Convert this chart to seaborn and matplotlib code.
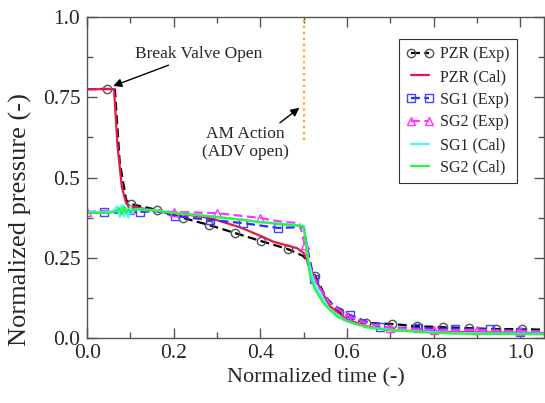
import matplotlib
matplotlib.use("Agg")
import matplotlib.pyplot as plt
import seaborn as sns
from matplotlib.ticker import MultipleLocator

# Normalized time / pressure
pzr_exp_t = [0.0, 0.046, 0.064, 0.075, 0.09, 0.102, 0.162, 0.222, 0.282, 0.342, 0.402, 0.464, 0.50,
             0.515, 0.527, 0.55, 0.582, 0.61, 0.644, 0.704, 0.762, 0.822, 0.882, 0.944, 1.004, 1.06]
pzr_exp_p = [0.775, 0.776, 0.774, 0.55, 0.43, 0.417, 0.399, 0.374, 0.352, 0.327, 0.302, 0.277, 0.255,
             0.22, 0.193, 0.13, 0.081, 0.062, 0.047, 0.044, 0.037, 0.034, 0.031, 0.028, 0.028, 0.026]
pzr_exp_mk = [1, 5, 6, 7, 8, 9, 10, 11, 14, 16, 18, 19, 20, 21, 22, 23, 24]

pzr_cal_t = [0.0, 0.062, 0.07, 0.08, 0.09, 0.10, 0.12, 0.176, 0.238, 0.284, 0.353, 0.406, 0.43, 0.485,
             0.50, 0.505, 0.515, 0.527, 0.56, 0.6, 0.65, 0.7, 0.8, 0.9, 1.06]
pzr_cal_p = [0.775, 0.775, 0.6, 0.47, 0.42, 0.41, 0.405, 0.392, 0.383, 0.374, 0.345, 0.315, 0.30, 0.28,
             0.265, 0.25, 0.22, 0.185, 0.10, 0.058, 0.035, 0.025, 0.02, 0.018, 0.016]

sg1_exp_t = [0.0, 0.039, 0.08, 0.122, 0.16, 0.203, 0.284, 0.36, 0.441, 0.50, 0.51, 0.524, 0.56, 0.607,
             0.677, 0.764, 0.85, 0.93, 1.0, 1.06]
sg1_exp_p = [0.39, 0.392, 0.39, 0.393, 0.395, 0.38, 0.368, 0.358, 0.343, 0.346, 0.27, 0.183, 0.11, 0.072,
             0.034, 0.031, 0.029, 0.027, 0.02, 0.02]
sg1_exp_mk = [1, 3, 5, 6, 7, 8, 11, 13, 14, 15, 16, 17, 18]

sg2_exp_t = [0.0, 0.1, 0.2, 0.3, 0.4, 0.45, 0.49, 0.503, 0.515, 0.53, 0.56, 0.6, 0.65, 0.7, 0.8, 0.9,
             1.0, 1.06]
sg2_exp_p = [0.393, 0.40, 0.393, 0.389, 0.374, 0.362, 0.358, 0.29, 0.22, 0.17, 0.11, 0.07, 0.045, 0.032,
             0.025, 0.025, 0.022, 0.02]
sg2_exp_mk = [0, 1, 2, 3, 4, 7, 11, 13, 14, 15, 16]

sg1_cal_t = [0.0, 0.04, 0.06, 0.07, 0.075, 0.08, 0.085, 0.09, 0.095, 0.1, 0.105, 0.11, 0.12, 0.13, 0.15,
             0.2, 0.3, 0.4, 0.5, 0.51, 0.52, 0.53, 0.56, 0.6, 0.65, 0.7, 0.8, 0.9, 1.06]
sg1_cal_p = [0.392, 0.392, 0.395, 0.41, 0.378, 0.414, 0.38, 0.405, 0.375, 0.41, 0.39, 0.40, 0.402, 0.40,
             0.399, 0.39, 0.378, 0.362, 0.35, 0.25, 0.19, 0.155, 0.09, 0.052, 0.033, 0.026, 0.018, 0.015, 0.014]

sg2_cal_t = [0.0, 0.05, 0.07, 0.075, 0.08, 0.085, 0.09, 0.095, 0.1, 0.11, 0.12, 0.15, 0.2, 0.3, 0.4, 0.5,
             0.51, 0.515, 0.527, 0.545, 0.561, 0.58, 0.607, 0.63, 0.66, 0.7, 0.739, 0.8, 0.9, 1.06]
sg2_cal_p = [0.39, 0.39, 0.395, 0.405, 0.385, 0.41, 0.39, 0.40, 0.395, 0.40, 0.40, 0.398, 0.39, 0.377,
             0.361, 0.348, 0.243, 0.19, 0.15, 0.11, 0.087, 0.065, 0.05, 0.04, 0.031, 0.025, 0.022, 0.016,
             0.013, 0.012]

am_action_t = 0.5

sns.set_style("ticks")
plt.rcParams['font.family'] = ['Liberation Serif', 'DejaVu Serif']
plt.rcParams['xtick.direction'] = 'in'
plt.rcParams['ytick.direction'] = 'in'
plt.rcParams['xtick.top'] = True
plt.rcParams['ytick.right'] = True

fig = plt.figure(figsize=(5.45, 4.03), dpi=100)
ax = fig.add_axes([0.16, 0.161, 0.838, 0.797])

common = dict(ax=ax, estimator=None, sort=False, lw=1.6)
sns.lineplot(x=pzr_exp_t, y=pzr_exp_p, color='black', linestyle=(0, (4, 2)), marker='o', ms=6,
             mfc='none', mec='#555555', mew=1, markevery=pzr_exp_mk, label='PZR (Exp)', **common)
sns.lineplot(x=pzr_cal_t, y=pzr_cal_p, color='#e8174a', label='PZR (Cal)', **common)
sns.lineplot(x=sg1_exp_t, y=sg1_exp_p, color='#2b2bff', linestyle=(0, (4, 2)), marker='s', ms=6,
             mfc='none', mec='#4444ff', mew=1, markevery=sg1_exp_mk, label='SG1 (Exp)', **common)
sns.lineplot(x=sg2_exp_t, y=sg2_exp_p, color='#ff33ff', linestyle=(0, (4, 2)), marker='^', ms=6,
             mfc='none', mec='#ff33ff', mew=1, markevery=sg2_exp_mk, label='SG2 (Exp)', **common)
sns.lineplot(x=sg1_cal_t, y=sg1_cal_p, color='#33ffff', label='SG1 (Cal)', **common)
sns.lineplot(x=sg2_cal_t, y=sg2_cal_p, color='#33ee44', label='SG2 (Cal)', **common)

ax.axvline(am_action_t, ymin=0.617, ymax=1.0, color='#ffaa00', linestyle=':', lw=1.6)

ax.annotate('Break Valve Open', xy=(0.06, 0.785), xytext=(0.11, 0.86),
            fontsize=12.5, ha='left', va='bottom',
            arrowprops=dict(arrowstyle='-|>', color='black', lw=1, shrinkA=0, shrinkB=0))
ax.annotate('AM Action\n(ADV open)', xy=(0.49, 0.717), xytext=(0.365, 0.66),
            fontsize=12.5, ha='center', va='top', linespacing=1.15,
            arrowprops=dict(arrowstyle='-|>', color='black', lw=1, shrinkA=0, shrinkB=0,
                            relpos=(0.85, 1.0)))

ax.set_xlim(0, 1.055)
ax.set_ylim(0, 1.0)
ax.set_xticks([0.0, 0.2, 0.4, 0.6, 0.8, 1.0])
ax.set_xticklabels(['0.0', '0.2', '0.4', '0.6', '0.8', '1.0'])
ax.xaxis.set_minor_locator(MultipleLocator(0.1))
ax.set_yticks([0.0, 0.25, 0.5, 0.75, 1.0])
ax.set_yticklabels(['0.0', '0.25', '0.5', '0.75', '1.0'])
ax.yaxis.set_minor_locator(MultipleLocator(0.125))
ax.tick_params(which='major', length=7, width=1, color='#555555', labelsize=15.5)
ax.tick_params(axis='y', which='major', pad=5)
ax.tick_params(axis='x', which='major', pad=4)
ax.tick_params(which='minor', length=4, width=1, color='#555555')
for s in ax.spines.values():
    s.set_color('#555555')
    s.set_linewidth(1)

ax.set_xlabel('Normalized time (-)', fontsize=16)
ax.set_ylabel('Normalized pressure (-)', fontsize=19)
ax.yaxis.set_label_coords(-0.12, 0.37)

h, l = ax.get_legend_handles_labels()
leg = ax.legend(h, l, loc='upper right', bbox_to_anchor=(0.94, 0.931), borderaxespad=0,
                fontsize=11.5, numpoints=2, handlelength=1.7, labelspacing=0.42,
                handletextpad=0.4, borderpad=0.45,
                frameon=True, fancybox=False, edgecolor='#333333', framealpha=1)
leg.get_frame().set_linewidth(0.8)

fig.savefig('out.png', dpi=100)
